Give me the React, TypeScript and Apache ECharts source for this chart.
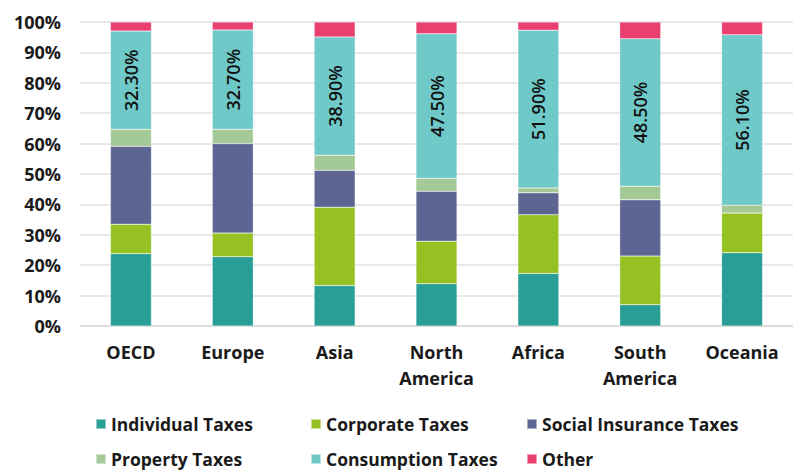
import React, { useEffect, useRef } from "react";
import * as echarts from "echarts";

const categories = ["OECD", "Europe", "Asia", "North\nAmerica", "Africa", "South\nAmerica", "Oceania"];
const individualTaxes = [23.8, 22.8, 13.3, 13.9, 17.3, 7.0, 24.1];
const corporateTaxes = [9.7, 7.8, 25.8, 14.0, 19.3, 16.0, 13.1];
const socialInsuranceTaxes = [25.6, 29.4, 12.1, 16.4, 7.2, 18.5, 0];
const propertyTaxes = [5.6, 4.7, 5.0, 4.3, 1.6, 4.5, 2.5];
const consumptionTaxes = [32.3, 32.7, 38.9, 47.5, 51.9, 48.5, 56.1];
const otherTaxes = [3.0, 2.6, 4.9, 3.9, 2.7, 5.5, 4.2];
const yTicks = [0, 10, 20, 30, 40, 50, 60, 70, 80, 90, 100];

const seriesNames = [
  "Individual Taxes",
  "Corporate Taxes",
  "Social Insurance Taxes",
  "Property Taxes",
  "Consumption Taxes",
  "Other",
];
const seriesData = [individualTaxes, corporateTaxes, socialInsuranceTaxes, propertyTaxes, consumptionTaxes, otherTaxes];
const colors = ["#299e96", "#95c122", "#5d6593", "#a3c996", "#6fc9c8", "#ea406f"];

const FONT = "'Open Sans', 'Noto Sans', sans-serif";

export default function App() {
  const ref = useRef<HTMLDivElement>(null);
  useEffect(() => {
    if (!ref.current) return;
    const chart = echarts.init(ref.current, null, { renderer: "svg" });
    const legendLefts = [95, 310, 526];
    const legendTops = [415, 450];
    chart.setOption({
      animation: false,
      color: colors,
      grid: { left: 80, right: 0, top: 22, bottom: 145, containLabel: false },
      legend: seriesNames.map((name, i) => ({
        orient: "horizontal",
        left: legendLefts[i % 3],
        top: legendTops[Math.floor(i / 3)],
        data: [name],
        icon: "rect",
        itemWidth: 10,
        itemHeight: 10,
        padding: 0,
        textStyle: { fontFamily: FONT, fontSize: 17.5, fontWeight: "bold", color: "#1a1a1a", lineHeight: 16 },
        selectedMode: false,
      })),
      xAxis: {
        type: "category",
        data: categories,
        axisLine: { show: true, lineStyle: { color: "#d9d9d9", width: 1.5 } },
        axisTick: { show: false },
        axisLabel: {
          fontFamily: FONT,
          fontSize: 18,
          fontWeight: "bold",
          color: "#1a1a1a",
          margin: 13,
          lineHeight: 26,
          interval: 0,
        },
      },
      yAxis: {
        type: "value",
        min: yTicks[0],
        max: yTicks[yTicks.length - 1],
        interval: 10,
        axisLine: { show: false },
        axisTick: { show: false },
        splitLine: { lineStyle: { color: "#e0e0e0", width: 1.5 } },
        axisLabel: {
          fontFamily: FONT,
          fontSize: 18,
          fontWeight: "bold",
          color: "#1a1a1a",
          margin: 19,
          formatter: (v: number) => v + "%",
        },
      },
      series: seriesNames.map((name, i) => ({
        name,
        type: "bar",
        stack: "total",
        barWidth: 41,
        data: seriesData[i],
        itemStyle: { color: colors[i], borderColor: "rgba(255,255,255,0.5)", borderWidth: 0.5 },
        label:
          i === 4
            ? {
                show: true,
                position: "inside",
                rotate: 90,
                fontFamily: FONT,
                fontSize: 18,
                fontWeight: 600,
                color: "#111111",
                formatter: (p: any) => Number(p.value).toFixed(2) + "%",
              }
            : { show: false },
      })),
    });
    return () => chart.dispose();
  }, []);
  return (
    <div
      ref={ref}
      style={{ position: "absolute", left: 0, top: 0, width: 793, height: 471, overflow: "hidden" }}
    />
  );
}
